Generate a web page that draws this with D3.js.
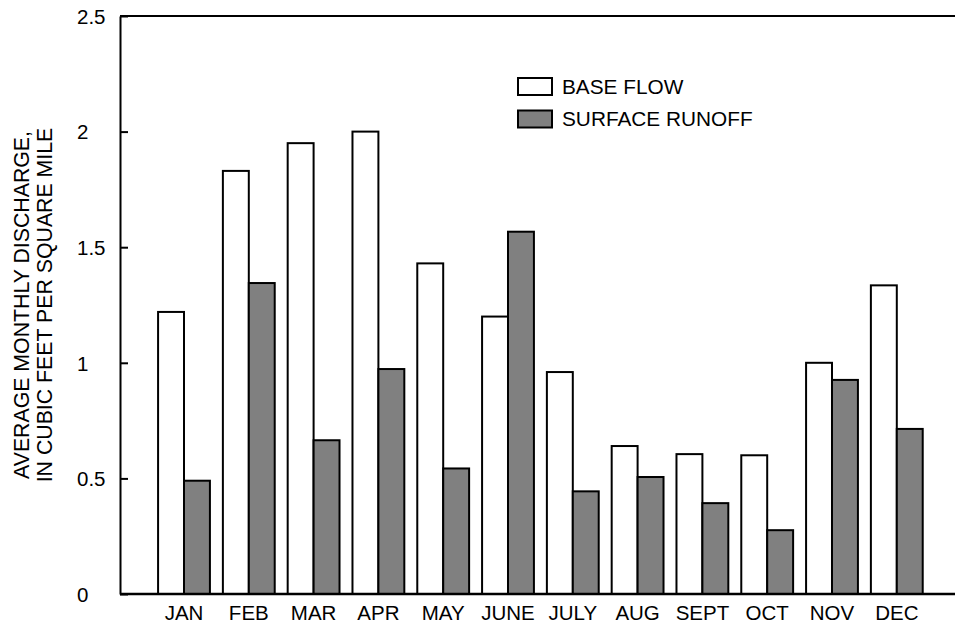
<!DOCTYPE html>
<html>
<head>
<meta charset="utf-8">
<script src="https://cdn.jsdelivr.net/npm/d3@7"></script>
<style>
  body { margin: 0; background: #fff; }
  svg { display: block; font-family: "Liberation Sans", Arial, sans-serif; }
</style>
</head>
<body>
<svg id="chart" width="955" height="625"></svg>
<script>
const months = ["JAN","FEB","MAR","APR","MAY","JUNE","JULY","AUG","SEPT","OCT","NOV","DEC"];
const baseFlow = [1.22, 1.83, 1.95, 2.00, 1.43, 1.20, 0.96, 0.64, 0.605, 0.60, 1.00, 1.335];
const surfaceRunoff = [0.49, 1.345, 0.665, 0.973, 0.543, 1.567, 0.444, 0.506, 0.393, 0.276, 0.926, 0.714];
const seriesNames = ["BASE FLOW", "SURFACE RUNOFF"];
const yTicks = [0, 0.5, 1, 1.5, 2, 2.5];
const yTickLabels = ["0", "0.5", "1", "1.5", "2", "2.5"];
const yTitle = ["AVERAGE MONTHLY DISCHARGE,", "IN CUBIC FEET PER SQUARE MILE"];

const svg = d3.select("#chart");
const mLeft = 120, mRight = 955, mTop = 16, mBottom = 594;
const colors = ["#ffffff", "#808080"];

const y = d3.scaleLinear().domain([0, 2.5]).range([mBottom, mTop]);
const x0 = d3.scaleBand().domain(months).range([151.6, 929.2]).paddingInner(0.2).paddingOuter(0.1);
const x1 = d3.scaleBand().domain([0, 1]).range([0, x0.bandwidth()]);

// bars
const rows = months.map((m, i) => ({ m, vals: [baseFlow[i], surfaceRunoff[i]] }));
const g = svg.append("g");
g.selectAll("g.grp").data(rows).join("g")
  .attr("transform", d => `translate(${x0(d.m)},0)`)
  .selectAll("rect").data(d => d.vals.map((v, k) => ({ v, k }))).join("rect")
  .attr("x", d => x1(d.k))
  .attr("width", x1.bandwidth())
  .attr("y", d => y(d.v))
  .attr("height", d => y(0) - y(d.v))
  .attr("fill", d => colors[d.k])
  .attr("stroke", "#000")
  .attr("stroke-width", 2);

// frame lines
svg.append("line").attr("x1", mLeft).attr("x2", mRight).attr("y1", y(2.5)).attr("y2", y(2.5))
  .attr("stroke", "#000").attr("stroke-width", 2);
svg.append("line").attr("x1", mLeft).attr("x2", mRight).attr("y1", y(0)).attr("y2", y(0))
  .attr("stroke", "#000").attr("stroke-width", 2.5);

// y axis
const yAxis = d3.axisLeft(y).tickValues(yTicks)
  .tickFormat((d, i) => yTickLabels[i]).tickSizeInner(-8).tickSizeOuter(0);
const ya = svg.append("g").attr("transform", `translate(${mLeft},0)`).call(yAxis);
ya.select(".domain").attr("stroke", "#000").attr("stroke-width", 2);
ya.selectAll(".tick line").attr("stroke", "#000").attr("stroke-width", 2);
ya.selectAll(".tick text").attr("x", -43).attr("text-anchor", "start")
  .attr("font-size", 20.5).attr("fill", "#000").attr("font-family", "Liberation Sans, Arial, sans-serif")
  .attr("dy", "0.36em");

// x axis labels
const xAxis = d3.axisBottom(x0).tickSize(0).tickPadding(10);
const xa = svg.append("g").attr("transform", `translate(0,${mBottom})`).call(xAxis);
xa.select(".domain").remove();
xa.selectAll(".tick text").attr("font-size", 20.5).attr("fill", "#000")
  .attr("font-family", "Liberation Sans, Arial, sans-serif").attr("y", 26).attr("dy", 0);

// y title
const yt = svg.append("text").attr("transform", "translate(29,305) rotate(-90)")
  .attr("text-anchor", "middle").attr("font-size", 21.3).attr("fill", "#000");
yt.append("tspan").attr("x", 0).attr("y", 0).text(yTitle[0]);
yt.append("tspan").attr("x", 0).attr("y", 23).text(yTitle[1]);

// legend
const lg = svg.append("g").attr("transform", "translate(518,78)");
seriesNames.forEach((name, k) => {
  lg.append("rect").attr("x", 0).attr("y", k * 32.5).attr("width", 34).attr("height", 17)
    .attr("fill", colors[k]).attr("stroke", "#000").attr("stroke-width", 2);
  lg.append("text").attr("x", 44).attr("y", k * 32.5 + 8.5).attr("dy", "0.36em")
    .attr("font-size", 20.8).attr("fill", "#000").text(name);
});
</script>
</body>
</html>
